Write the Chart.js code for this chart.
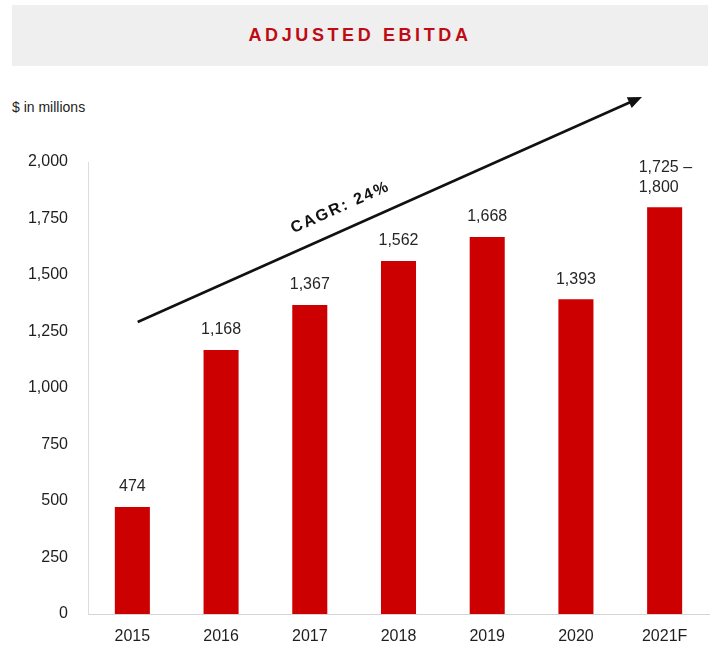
<!DOCTYPE html>
<html>
<head>
<meta charset="utf-8">
<script src="https://cdn.jsdelivr.net/npm/chart.js@4"></script>
<style>
  body { margin: 0; background: #fff; font-family: "Liberation Sans", Arial, sans-serif; }
  .wrap { position: relative; width: 717px; height: 650px; }
  .band {
    position: absolute; left: 12px; top: 5px; width: 696px; height: 61px;
    background: #efefef; color: #c00a14;
    font-weight: bold; font-size: 18px; letter-spacing: 3.6px;
    display: flex; align-items: center; justify-content: center;
  }
  .units { position: absolute; left: 12px; top: 99px; font-size: 14px; color: #222; }
  canvas { position: absolute; left: 0; top: 0; }
</style>
</head>
<body>
<div class="wrap">
  <div class="band">ADJUSTED EBITDA</div>
  <div class="units">$ in millions</div>
  <canvas id="ebitda" width="717" height="650"></canvas>
</div>
<script>
// Adjusted EBITDA, $ millions
var years = ['2015', '2016', '2017', '2018', '2019', '2020', '2021F'];
var ebitda = [474, 1168, 1367, 1562, 1668, 1393, 1800];
// 2021F guidance is a range; the bar uses the top of it
var guidanceLow = [null, null, null, null, null, null, 1725];
var yTicks = [0, 250, 500, 750, 1000, 1250, 1500, 1750, 2000];
var cagrText = 'CAGR: 24%';

function fmt(v) {
  return v.toLocaleString('en-US');
}

// value labels over each bar
var barLabels = {
  id: 'barLabels',
  afterDatasetsDraw: function (chart) {
    var ctx = chart.ctx;
    var meta = chart.getDatasetMeta(0);
    ctx.save();
    ctx.font = '16px "Liberation Sans", Arial, sans-serif';
    ctx.fillStyle = '#262626';
    ctx.textBaseline = 'middle';
    meta.data.forEach(function (bar, i) {
      if (guidanceLow[i] != null) {
        ctx.textAlign = 'left';
        ctx.fillText(fmt(guidanceLow[i]) + ' \u2013', bar.x - 26, bar.y - 40);
        ctx.fillText(fmt(ebitda[i]), bar.x - 26, bar.y - 20);
      } else {
        ctx.textAlign = 'center';
        ctx.fillText(fmt(ebitda[i]), bar.x, bar.y - 20);
      }
    });
    ctx.restore();
  }
};

// growth arrow with the CAGR caption
var cagrArrow = {
  id: 'cagrArrow',
  afterDraw: function (chart) {
    var ctx = chart.ctx;
    var x = chart.scales.x, y = chart.scales.y;
    var x0 = x.getPixelForValue(0.06), y0 = y.getPixelForValue(1292);
    var x1 = x.getPixelForValue(5.745), y1 = y.getPixelForValue(2288);
    var ang = Math.atan2(y1 - y0, x1 - x0);
    var len = Math.hypot(x1 - x0, y1 - y0);
    ctx.save();
    ctx.translate(x0, y0);
    ctx.rotate(ang);
    ctx.strokeStyle = '#111';
    ctx.fillStyle = '#111';
    ctx.lineWidth = 2.5;
    ctx.beginPath();
    ctx.moveTo(0, 0);
    ctx.lineTo(len - 10, 0);
    ctx.stroke();
    ctx.beginPath();
    ctx.moveTo(len, 0);
    ctx.lineTo(len - 14, -6);
    ctx.lineTo(len - 14, 6);
    ctx.closePath();
    ctx.fill();
    ctx.font = 'bold 16px "Liberation Sans", Arial, sans-serif';
    ctx.letterSpacing = '2px';
    ctx.textAlign = 'center';
    ctx.textBaseline = 'middle';
    ctx.fillText(cagrText, len * 0.42, -22);
    ctx.restore();
  }
};

new Chart(document.getElementById('ebitda'), {
  type: 'bar',
  data: {
    labels: years,
    datasets: [{
      data: ebitda,
      backgroundColor: '#cc0000',
      barPercentage: 1,
      categoryPercentage: 0.395
    }]
  },
  options: {
    responsive: false,
    animation: false,
    layout: { padding: { top: 162, right: 8, left: 0, bottom: 0 } },
    plugins: { legend: { display: false }, tooltip: { enabled: false } },
    scales: {
      x: {
        grid: { display: false, drawTicks: false },
        border: { display: true, color: '#d4d4d4', width: 1 },
        ticks: {
          color: '#1e1e1e', padding: 13,
          font: { size: 16, family: '"Liberation Sans", Arial, sans-serif' }
        },
        afterFit: function (s) { s.height = 36; }
      },
      y: {
        min: 0, max: 2000,
        grid: { display: false, drawTicks: false },
        border: { display: true, color: '#dcdcdc', width: 1 },
        afterBuildTicks: function (s) {
          s.ticks = yTicks.map(function (v) { return { value: v }; });
        },
        ticks: {
          color: '#1e1e1e', padding: 20,
          font: { size: 16, family: '"Liberation Sans", Arial, sans-serif' },
          callback: function (v) { return fmt(v); }
        },
        afterFit: function (s) { s.width = 88; }
      }
    }
  },
  plugins: [barLabels, cagrArrow]
});
</script>
</body>
</html>
